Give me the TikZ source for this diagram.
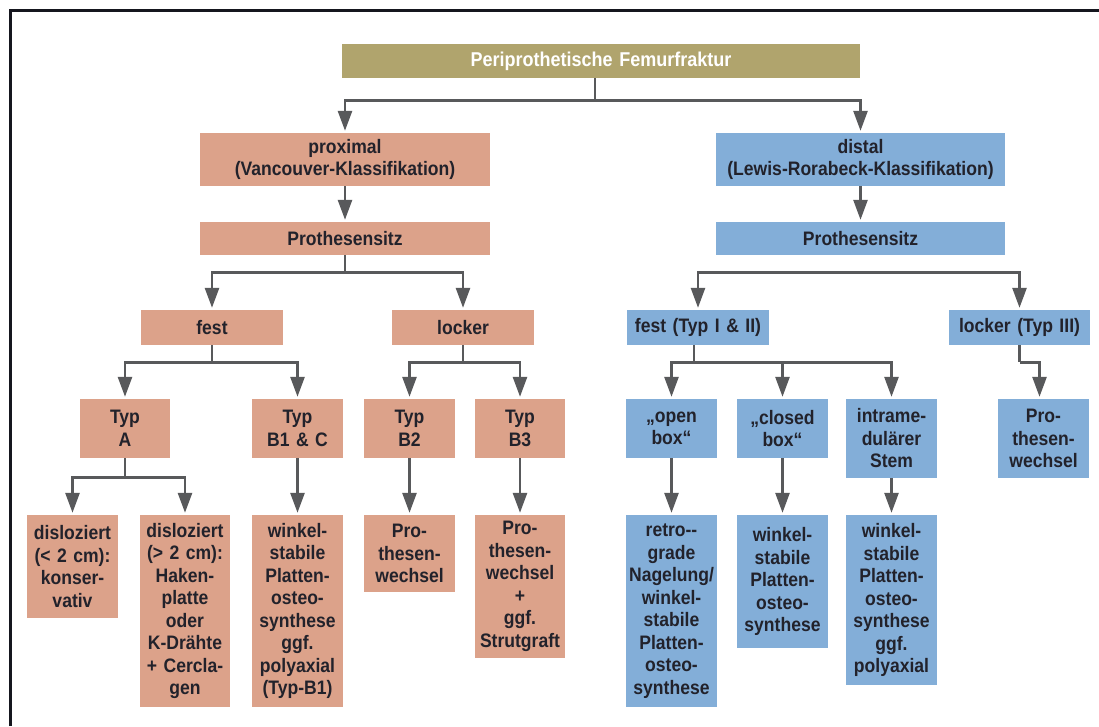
\documentclass[tikz,border=0pt]{standalone}
\usepackage{fontspec}
\setmainfont{Liberation Sans}
\newfontfamily\cond{Liberation Sans}[FakeStretch=0.9]
\usetikzlibrary{arrows.meta}
\definecolor{salmon}{HTML}{DCA28A}
\definecolor{skyb}{HTML}{83AED8}
\definecolor{olivebox}{HTML}{B0A46D}
\definecolor{arr}{HTML}{58595B}
\definecolor{txt}{HTML}{22222B}
\definecolor{frame}{HTML}{15161E}
\newcommand\bx[7]{%
  \pgfmathsetmacro\cx{(#2+#4)/2}\pgfmathsetmacro\cy{(#3+#5)/2}%
  \pgfmathsetmacro\ww{#4-#2}\pgfmathsetmacro\hh{#5-#3}%
  \node[#6, minimum width=\ww pt, minimum height=\hh pt, text width=\ww pt] (#1) at (\cx,\cy) {#7};}
\begin{document}
\begin{tikzpicture}[x=1pt,y=-1pt,
  box/.style={inner sep=0pt, align=center, font=\cond\bfseries\fontsize{19.5}{22.5}\selectfont, text=txt},
  pbox/.style={box, fill=salmon},
  dbox/.style={box, fill=skyb},
  tbox/.style={box, fill=olivebox, text=white, font=\cond\bfseries\fontsize{20}{22}\selectfont},
  conn/.style={draw=arr, line width=2.7pt},
  arrow/.style={conn, -{Triangle[length=20pt,width=14pt]}, shorten >=2pt}]
\useasboundingbox (0,0) rectangle (1099,726);
\fill[white] (0,0) rectangle (1099,726);
\draw[frame, line width=3pt] (10,726) -- (10,10) -- (1099,10);

% level 1
\bx{top}{342}{44}{860}{78}{tbox}{Periprothetische Femurfraktur}
% level 2
\bx{prox}{200}{133}{490}{186}{pbox}{proximal\\(Vancouver-Klassifikation)}
\bx{dist}{716}{133}{1005}{186}{dbox}{distal\\(Lewis-Rorabeck-Klassifikation)}
\bx{prothL}{200}{222}{490}{255}{pbox}{Prothesensitz}
\bx{prothR}{716}{222}{1005}{255}{dbox}{Prothesensitz}
% level 3
\bx{festL}{141}{310}{283}{345}{pbox}{fest}
\bx{lockL}{392}{310}{534}{345}{pbox}{locker}
\bx{festR}{627}{310}{769}{345}{dbox}{fest (Typ I \& II)}
\bx{lockR}{949}{310}{1090}{345}{dbox}{locker (Typ III)}
% level 4
\bx{typA}{80}{399}{170}{458}{pbox}{Typ\\A}
\bx{typB1}{252}{399}{343}{458}{pbox}{Typ\\B1 \& C}
\bx{typB2}{364}{399}{455}{458}{pbox}{Typ\\B2}
\bx{typB3}{475}{399}{565}{458}{pbox}{Typ\\B3}
\bx{openb}{626}{399}{717}{458}{dbox}{„open\\box“}
\bx{closedb}{737}{399}{828}{458}{dbox}{„closed\\box“}
\bx{intra}{846}{399}{937}{478}{dbox}{intrame-\\dulärer\\Stem}
\bx{pwR}{998}{399}{1089}{478}{dbox}{Pro-\\thesen-\\wechsel}
% level 5
\bx{disA}{27}{515}{118}{618}{pbox}{disloziert\\(< 2 cm):\\konser-\\vativ}
\bx{disB}{140}{515}{230}{707}{pbox}{disloziert\\(> 2 cm):\\Haken-\\platte\\oder\\K-Drähte\\+ Cercla-\\gen}
\bx{wsB1}{252}{515}{343}{707}{pbox}{winkel-\\stabile\\Platten-\\osteo-\\synthese\\ggf.\\polyaxial\\(Typ-B1)}
\bx{pwB2}{364}{515}{455}{592}{pbox}{Pro-\\thesen-\\wechsel}
\bx{pwB3}{475}{515}{565}{658}{pbox}{Pro-\\thesen-\\wechsel\\+\\ggf.\\Strutgraft}
\bx{retro}{626}{515}{717}{707}{dbox}{retro-{}-\\grade\\Nagelung/\\winkel-\\stabile\\Platten-\\osteo-\\synthese}
\bx{wsC}{737}{515}{828}{648}{dbox}{winkel-\\stabile\\Platten-\\osteo-\\synthese}
\bx{wsI}{846}{515}{937}{685}{dbox}{winkel-\\stabile\\Platten-\\osteo-\\synthese\\ggf.\\polyaxial}

% connectors
\coordinate (s0) at ([xshift=-6pt,yshift=-22pt]top.south);
\draw[conn] ([xshift=-6pt]top.south) -- (s0);
\draw[arrow] (s0) -| (prox.north);
\draw[arrow] (s0) -| (dist.north);
\draw[arrow] (prox.south) -- (prothL.north);
\draw[arrow] (dist.south) -- (prothR.north);

\coordinate (s1) at ([yshift=-17pt]prothL.south);
\draw[conn] (prothL.south) -- (s1);
\draw[arrow] (s1) -| (festL.north);
\draw[arrow] (s1) -| (lockL.north);
\coordinate (s2) at ([yshift=-17pt]prothR.south);
\draw[arrow] (s2) -| (festR.north);
\draw[arrow] (s2) -| (lockR.north);

\coordinate (s3) at ([yshift=-17pt]festL.south);
\draw[conn] (festL.south) -- (s3);
\draw[arrow] (s3) -| (typA.north);
\draw[arrow] (s3) -| (typB1.north);
\coordinate (s4) at ([yshift=-17pt]lockL.south);
\draw[conn] (lockL.south) -- (s4);
\draw[arrow] (s4) -| (typB2.north);
\draw[arrow] (s4) -| (typB3.north);
\coordinate (s5) at ([xshift=-4pt,yshift=-17pt]festR.south);
\draw[conn] ([xshift=-4pt]festR.south) -- (s5);
\draw[arrow] (s5) -| (openb.north);
\draw[arrow] (s5) -| (closedb.north);
\draw[arrow] (s5) -| (intra.north);
\coordinate (s6) at ([yshift=-17pt]lockR.south);
\draw[conn] (lockR.south) -- (s6);
\draw[arrow] (s6) -| ([xshift=-4pt]pwR.north);

\coordinate (s7) at ([yshift=-19pt]typA.south);
\draw[conn] (typA.south) -- (s7);
\draw[arrow] (s7) -| (disA.north);
\draw[arrow] (s7) -| (disB.north);
\draw[arrow] (typB1.south) -- (wsB1.north);
\draw[arrow] (typB2.south) -- (pwB2.north);
\draw[arrow] (typB3.south) -- (pwB3.north);
\draw[arrow] (openb.south) -- (retro.north);
\draw[arrow] (closedb.south) -- (wsC.north);
\draw[arrow] (intra.south) -- (wsI.north);
\end{tikzpicture}
\end{document}
